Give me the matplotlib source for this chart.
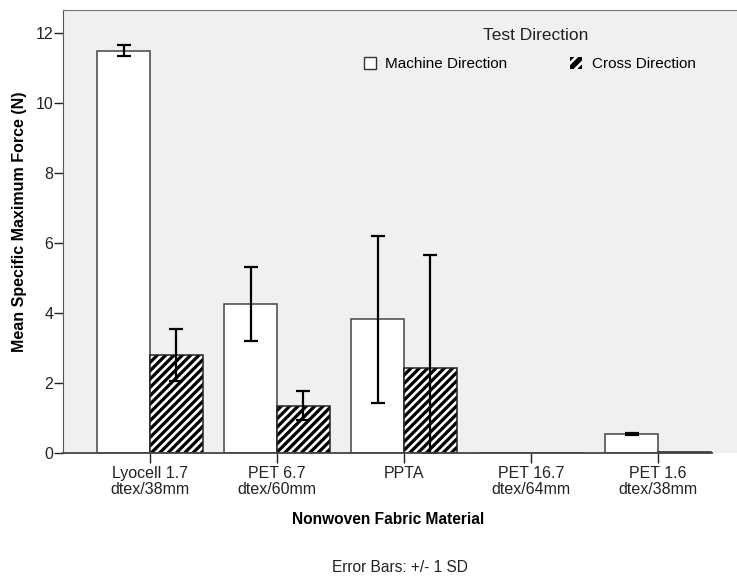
import matplotlib
matplotlib.use("Agg")
import matplotlib.pyplot as plt
from matplotlib.patches import Patch
import numpy as np

plt.rcParams['font.family'] = ['Liberation Sans', 'DejaVu Sans']
plt.rcParams['hatch.linewidth'] = 1.9

# data
materials = ["Lyocell 1.7\ndtex/38mm", "PET 6.7\ndtex/60mm", "PPTA",
             "PET 16.7\ndtex/64mm", "PET 1.6\ndtex/38mm"]
md_mean = [11.50, 4.25, 3.82, 0.0, 0.55]
md_sd = [0.15, 1.06, 2.38, 0.0, 0.03]
cd_mean = [2.80, 1.35, 2.43, 0.0, 0.02]
cd_sd = [0.75, 0.42, 3.24, 0.0, 0.0]

fig = plt.figure(figsize=(7.37, 5.77), dpi=100)
ax = fig.add_axes([63 / 737, 124 / 577, 674 / 737, 443 / 577])
ax.set_facecolor('#f0f0f0')

x = np.arange(len(materials))
w = 0.417

ax.bar(x - w / 2, md_mean, w, color='white', edgecolor='#444444', linewidth=1.1, zorder=2)
# cross direction: black bars with white diagonal stripes
ax.bar(x + w / 2, cd_mean, w, color='black', edgecolor='white', hatch='////', linewidth=0, zorder=2)
ax.bar(x + w / 2, cd_mean, w, fill=False, edgecolor='#222222', linewidth=1.1, zorder=3)

# error bars (lower end clipped at zero)
def draw_err(xs, m, s):
    m = np.array(m)
    s = np.array(s)
    lo = np.minimum(s, m)
    for xi, mi, loi, hii in zip(xs, m, lo, s):
        if hii == 0:
            continue
        ax.errorbar(xi, mi, yerr=[[loi], [hii]], fmt='none', ecolor='black',
                    elinewidth=1.6, capsize=4.8, capthick=1.6, zorder=4)

draw_err(x - w / 2, md_mean, md_sd)
draw_err(x + w / 2, cd_mean, cd_sd)

ax.set_xlim(-0.685, 4.622)
ax.set_ylim(0, 12.66)
ax.set_yticks([0, 2, 4, 6, 8, 10, 12])
ax.set_xticks(x)
ax.set_xticklabels(materials, fontsize=11.5, color='#222222', linespacing=1.1)
ax.tick_params(axis='y', labelsize=11.5, colors='#222222', length=6.5, width=1, pad=0.5)
ax.tick_params(axis='x', length=7.5, width=1, colors='#222222', pad=2)

ax.spines['right'].set_visible(False)
ax.spines['top'].set_color('#777777')
ax.spines['left'].set_color('#555555')
ax.spines['bottom'].set_color('#444444')
ax.spines['bottom'].set_linewidth(1.3)
ax.spines['bottom'].set_bounds(-0.685, 4.425)
ax.spines['bottom'].set_zorder(5)

ax.set_ylabel("Mean Specific Maximum Force (N)", fontsize=11.5, fontweight='bold', va='center')
ax.yaxis.set_label_coords((20 - 63) / 674, (453 - 222) / 443)
ax.set_xlabel("Nonwoven Fabric Material", fontsize=11.2, fontweight='bold', va='center')
ax.xaxis.set_label_coords((388 - 63) / 674, -(520 - 453) / 443)

fig.text(536 / 737, 1 - 36 / 577, "Test Direction", ha='center', va='center', fontsize=12.5,
         color='#222222')
handles = [Patch(facecolor='white', edgecolor='#333333', linewidth=1.0),
           Patch(facecolor='black', edgecolor='white', hatch='///', linewidth=0)]
leg = ax.legend(handles, ["Machine Direction", "Cross Direction"], ncol=2,
                frameon=False, fontsize=11, loc='center left',
                bbox_to_anchor=(364 / 737, 1 - 64 / 577),
                bbox_transform=fig.transFigure, handlelength=0.8, handleheight=0.8,
                handletextpad=0.6, columnspacing=4.1, borderaxespad=0, borderpad=0)

fig.text(400 / 737, 1 - 567 / 577, "Error Bars: +/- 1 SD", ha='center', va='center',
         fontsize=11.2, color='#222222')

fig.savefig("out.png", dpi=100)
